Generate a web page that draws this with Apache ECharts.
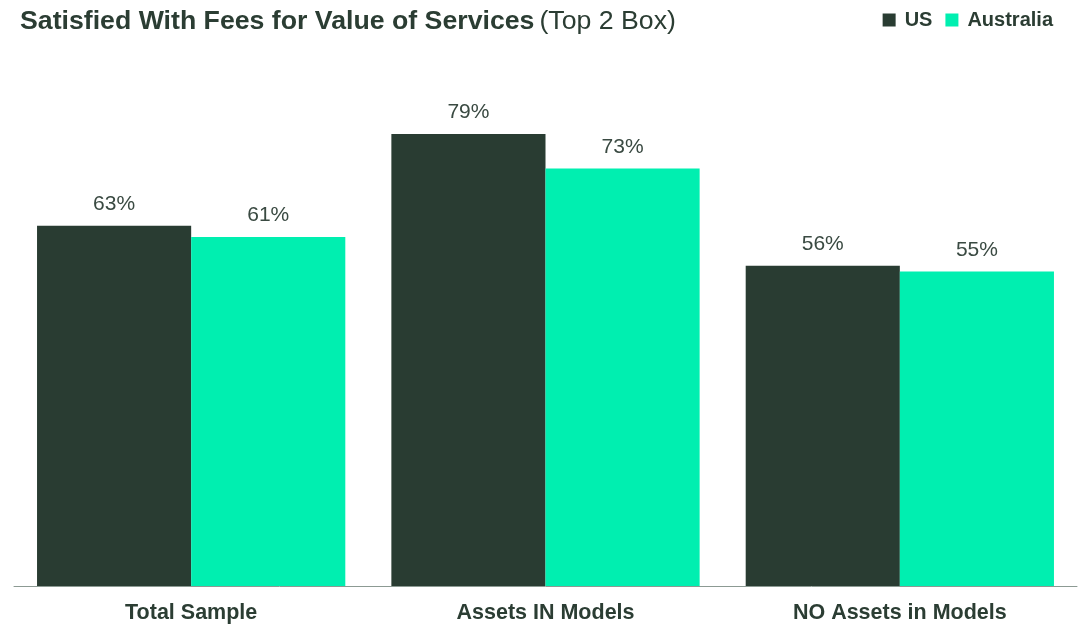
<!DOCTYPE html>
<html><head><meta charset="utf-8">
<script src="https://cdn.jsdelivr.net/npm/echarts@6/dist/echarts.min.js"></script>
<style>html,body{margin:0;padding:0;background:#fff}#c{width:1078px;height:624px}</style>
</head><body><div id="c"></div>
<script>
const categories = ['Total Sample', 'Assets IN Models', 'NO Assets in Models'];
const usValues = [63, 79, 56];
const auValues = [61, 73, 55];
const seriesNames = ['US', 'Australia'];

const FF = 'Liberation Sans, Arial, sans-serif';
const chart = echarts.init(document.getElementById('c'));
const labelCfg = {show: true, position: 'top', distance: 11, formatter: '{c}%', color: '#3a4a42', fontSize: 21, fontFamily: FF};
chart.setOption({
  animation: false,
  title: {
    left: 15, top: 3,
    text: '{b|Satisfied With Fees for Value of Services} {n|(Top 2 Box)}',
    textStyle: {rich: {
      b: {fontSize: 26.7, fontWeight: 'bold', color: '#2b3d33', fontFamily: FF},
      n: {fontSize: 26.7, fontWeight: 'normal', color: '#2b3d33', fontFamily: FF}
    }}
  },
  legend: {
    right: 20, top: 5, itemWidth: 13, itemHeight: 13, itemGap: 13, icon: 'rect',
    textStyle: {fontSize: 20, fontWeight: 'bold', color: '#2b3d33', fontFamily: FF, padding: [0,0,0,4]},
    data: seriesNames
  },
  grid: {left: 14, right: 1, top: 14, bottom: 37, containLabel: false},
  xAxis: {
    type: 'category', data: categories,
    axisLine: {lineStyle: {color: '#8c9a93', width: 1}},
    axisTick: {show: false},
    axisLabel: {fontSize: 21.5, fontWeight: 'bold', color: '#2b3d33', margin: 16, fontFamily: FF}
  },
  yAxis: {type: 'value', min: 0, max: 100, show: false, splitLine: {show: false}},
  series: [
    {name: seriesNames[0], type: 'bar', data: usValues, barGap: '0%', barCategoryGap: '13%', itemStyle: {color: '#293c32'}, label: labelCfg},
    {name: seriesNames[1], type: 'bar', data: auValues, barGap: '0%', barCategoryGap: '13%', itemStyle: {color: '#00efb0'}, label: labelCfg}
  ]
});
</script></body></html>
